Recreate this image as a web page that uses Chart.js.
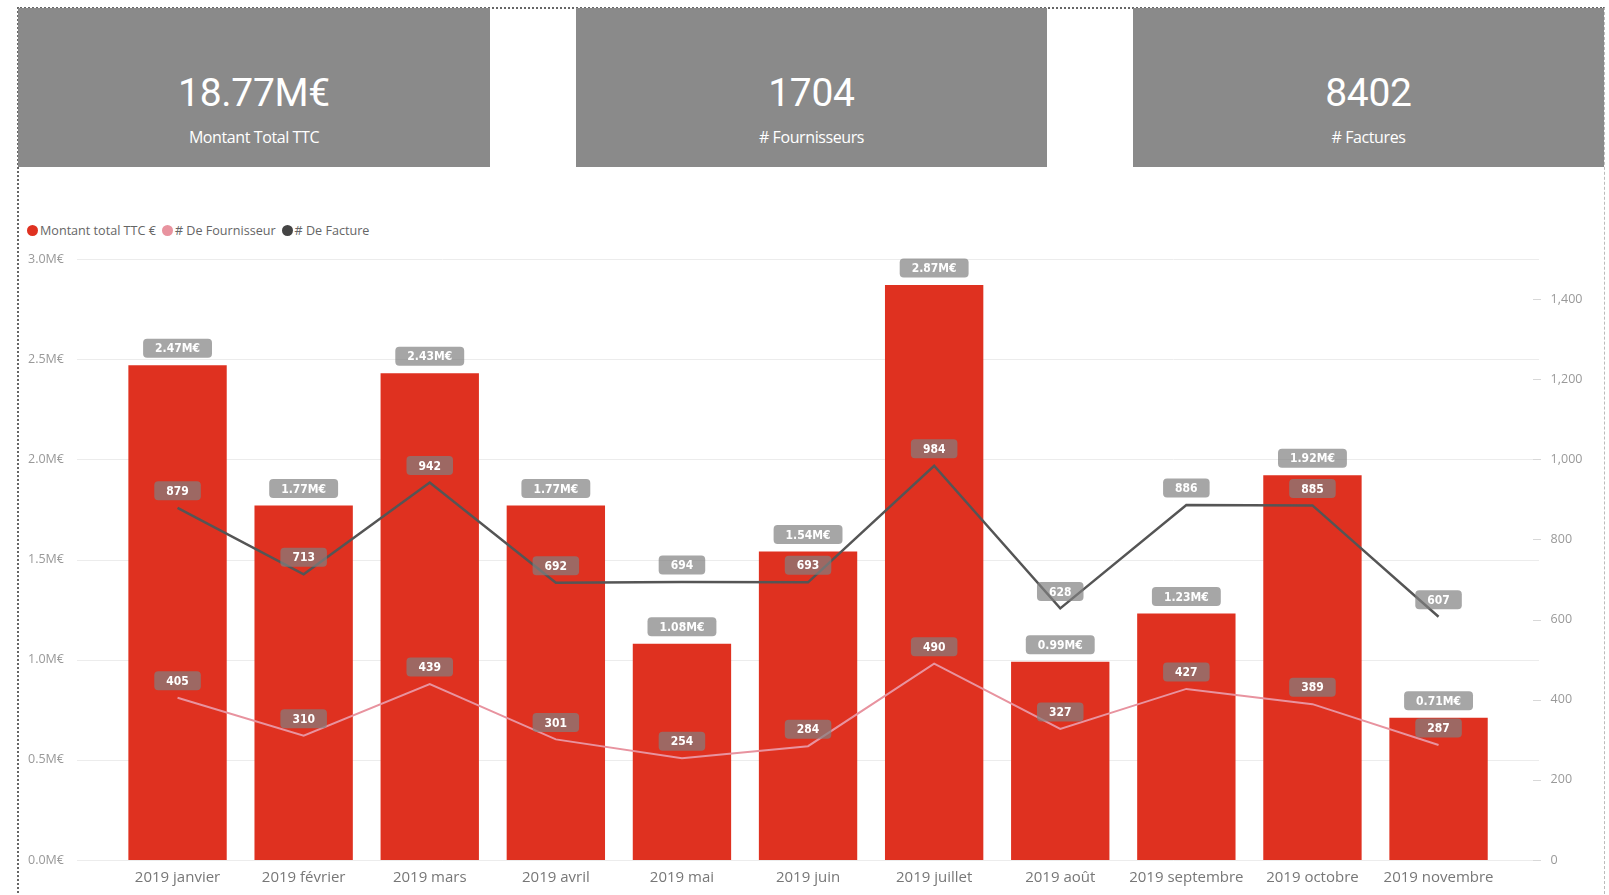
<!DOCTYPE html>
<html lang="fr">
<head>
    <meta charset="UTF-8">
    <title>Factures 2019</title>
    <script src="https://cdn.jsdelivr.net/npm/chart.js@4.4.1/dist/chart.umd.min.js"></script>
    <style>
        body { margin: 0; background: #fff; width: 1609px; height: 895px; overflow: hidden; position: relative; font-family: 'Open Sans', sans-serif; }
        .frame { position: absolute; left: 17px; top: 7px; width: 1585px; height: 900px; border-left: 2px dotted #666; border-top: 2px dotted #666; border-right: 1px dashed #bbb; }
        .card { position: absolute; top: 8px; height: 159px; background: #8a8a8a; color: #fff; text-align: center; }
        .card .big { position: absolute; left: 0; right: 0; top: 63px; font-family: Roboto, sans-serif; font-size: 39px; letter-spacing: -0.3px; line-height: 44px; }
        .card .sub { position: absolute; left: 0; right: 0; top: 118px; font-size: 16px; letter-spacing: -0.4px; line-height: 22px; }
        .legend { position: absolute; left: 27px; top: 222px; display: flex; align-items: center; font-size: 12.6px; color: #666; }
        .legend span.dot { display: inline-block; width: 11px; height: 11px; border-radius: 50%; margin-right: 2px; }
        .legend span.lbl { margin-right: 6px; }
        #wrap { position: absolute; left: 0; top: 180px; width: 1609px; height: 715px; }
    </style>
</head>
<body>
    <div class="frame"></div>
    <div class="card" style="left:18px;width:472px;"><div class="big">18.77M€</div><div class="sub">Montant Total TTC</div></div>
    <div class="card" style="left:576px;width:471px;"><div class="big">1704</div><div class="sub"># Fournisseurs</div></div>
    <div class="card" style="left:1133px;width:471px;"><div class="big">8402</div><div class="sub"># Factures</div></div>

    <div class="legend">
        <span class="dot" style="background:#df3120"></span><span class="lbl">Montant total TTC €</span>
        <span class="dot" style="background:#e8939f"></span><span class="lbl"># De Fournisseur</span>
        <span class="dot" style="background:#444"></span><span class="lbl"># De Facture</span>
    </div>

    <div id="wrap"><canvas id="combo" width="1609" height="715"></canvas></div>

    <script>
        // data
        const mois = ['2019 janvier', '2019 février', '2019 mars', '2019 avril', '2019 mai', '2019 juin',
                      '2019 juillet', '2019 août', '2019 septembre', '2019 octobre', '2019 novembre'];
        const montantTTC = [2.47, 1.77, 2.43, 1.77, 1.08, 1.54, 2.87, 0.99, 1.23, 1.92, 0.71]; // M€
        const nbFournisseur = [405, 310, 439, 301, 254, 284, 490, 327, 427, 389, 287];
        const nbFacture = [879, 713, 942, 692, 694, 693, 984, 628, 886, 885, 607];

        const LABEL_FONT = "bold 12px 'DejaVu Sans Condensed', 'DejaVu Sans', sans-serif";

        // grid lines run a bit wider than the category band, like in Power BI
        const gridPlugin = {
            id: 'wideGrid',
            beforeDatasetsDraw(chart) {
                const ctx = chart.ctx;
                const yl = chart.scales.y;
                const yr = chart.scales.y2;
                const left = 77, right = 1539;
                ctx.save();
                ctx.strokeStyle = '#ececec';
                ctx.lineWidth = 1;
                yl.ticks.forEach(t => {
                    const y = Math.round(yl.getPixelForValue(t.value)) + 0.5;
                    ctx.beginPath();
                    ctx.moveTo(left, y);
                    ctx.lineTo(right, y);
                    ctx.stroke();
                });
                ctx.strokeStyle = '#d8d8d8';
                yr.ticks.forEach(t => {
                    const y = Math.round(yr.getPixelForValue(t.value)) + 0.5;
                    ctx.beginPath();
                    ctx.moveTo(1533, y);
                    ctx.lineTo(1541, y);
                    ctx.stroke();
                });
                ctx.restore();
            }
        };

        const labelPlugin = {
            id: 'boxLabels',
            afterDatasetsDraw(chart) {
                const ctx = chart.ctx;
                ctx.save();
                ctx.font = LABEL_FONT;
                ctx.textAlign = 'center';
                ctx.textBaseline = 'middle';
                [0, 1, 2].forEach(di => {
                    const ds = chart.data.datasets[di];
                    const meta = chart.getDatasetMeta(di);
                    meta.data.forEach((el, i) => {
                        const v = ds.data[i];
                        const txt = di === 0 ? v.toFixed(2) + 'M€' : String(v);
                        const w = ctx.measureText(txt).width + 24;
                        const h = 19;
                        const cy = el.y - 17;
                        ctx.fillStyle = 'rgba(128,128,128,0.7)';
                        ctx.beginPath();
                        ctx.roundRect(el.x - w / 2, cy - h / 2, w, h, 4);
                        ctx.fill();
                        ctx.fillStyle = '#fff';
                        ctx.fillText(txt, el.x, cy + 1);
                    });
                });
                ctx.restore();
            }
        };

        new Chart(document.getElementById('combo'), {
            type: 'bar',
            data: {
                labels: mois,
                datasets: [
                    {
                        type: 'bar',
                        label: 'Montant total TTC €',
                        data: montantTTC,
                        backgroundColor: '#df3120',
                        yAxisID: 'y',
                        categoryPercentage: 1,
                        barPercentage: 0.78,
                        order: 2
                    },
                    {
                        type: 'line',
                        label: '# De Fournisseur',
                        data: nbFournisseur,
                        borderColor: '#e8939f',
                        borderWidth: 2,
                        pointRadius: 0,
                        tension: 0,
                        yAxisID: 'y2',
                        order: 1
                    },
                    {
                        type: 'line',
                        label: '# De Facture',
                        data: nbFacture,
                        borderColor: '#555',
                        borderWidth: 2.5,
                        pointRadius: 0,
                        tension: 0,
                        yAxisID: 'y2',
                        order: 0
                    }
                ]
            },
            options: {
                responsive: false,
                animation: false,
                layout: { padding: { left: 28, right: 0, top: 79, bottom: 0 } },
                plugins: {
                    legend: { display: false },
                    tooltip: { enabled: false }
                },
                scales: {
                    x: {
                        offset: true,
                        grid: { display: false },
                        border: { display: false },
                        ticks: { color: '#777', font: { family: 'Open Sans', size: 15 }, padding: 1, maxRotation: 0, autoSkip: false },
                        afterFit: s => { s.height = 35; }
                    },
                    y: {
                        position: 'left',
                        min: 0,
                        max: 3,
                        grid: { display: false },
                        border: { display: false },
                        ticks: {
                            stepSize: 0.5,
                            color: '#999',
                            crossAlign: 'far',
                            font: { family: 'Open Sans', size: 12.5 },
                            callback: v => v.toFixed(1) + 'M€'
                        },
                        afterFit: s => { s.width = 86.5; }
                    },
                    y2: {
                        position: 'right',
                        min: 0,
                        max: 1500,
                        // invisible tick marks only push the labels to the right
                        grid: { display: true, drawOnChartArea: false, drawTicks: true, tickLength: 49, color: 'rgba(0,0,0,0)' },
                        border: { display: false },
                        ticks: {
                            stepSize: 200,
                            color: '#999',
                            padding: 0,
                            font: { family: 'Open Sans', size: 12.5 },
                            callback: v => v.toLocaleString('en-US')
                        },
                        afterBuildTicks: s => { s.ticks = s.ticks.filter(t => t.value % 200 === 0); },
                        afterFit: s => { s.width = 107.4; }
                    }
                }
            },
            plugins: [gridPlugin, labelPlugin]
        });
    </script>
</body>
</html>
